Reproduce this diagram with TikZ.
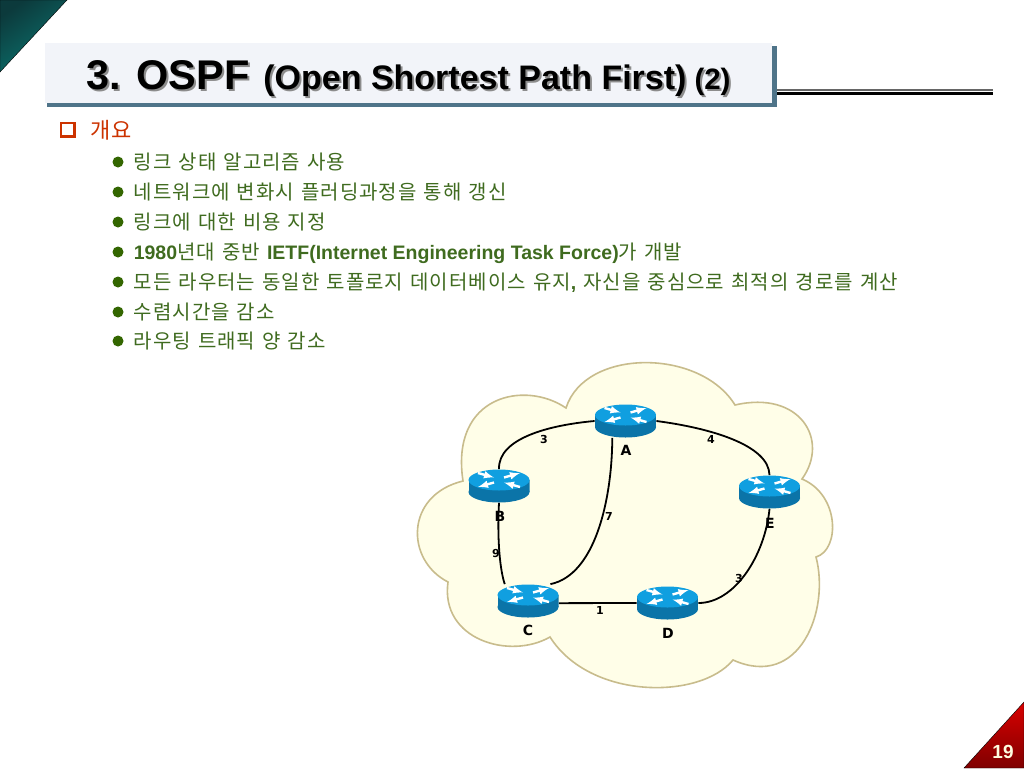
\documentclass[tikz,border=0pt]{standalone}
\usepackage{fontspec}
\usepackage{tikz}
\usetikzlibrary{positioning}
\setmainfont{Liberation Sans}
\newfontfamily\krfont[LetterSpace=5,WordSpace=1.3]{Noto Sans CJK KR}
\newfontfamily\labelfont{DejaVu Sans}
\definecolor{itemgreen}{HTML}{3F6B1F}
\definecolor{bulgreen}{HTML}{336600}
\definecolor{headred}{HTML}{CC3300}
\definecolor{barblue}{HTML}{4F7489}
\definecolor{boxgray}{HTML}{F2F4F9}
\definecolor{cloudfill}{HTML}{FFFEE8}
\definecolor{cloudline}{HTML}{C8BC8C}
\definecolor{routertop}{HTML}{109FE0}
\definecolor{routerside}{HTML}{0B74A8}
\definecolor{tealdark}{HTML}{0C3A3C}
\definecolor{teallight}{HTML}{0B7570}
\newcommand{\shadowed}[1]{\rlap{\kern2pt\raisebox{-2pt}{\color{black!45}#1}}#1}
\newcommand{\latinb}[1]{{\normalfont\fontsize{19.5}{22}\bfseries\selectfont #1}}

\begin{document}
\begin{tikzpicture}[x=1pt,y=-1pt,thick,
    item/.style={inner sep=0pt,text height=14pt,text depth=0pt,text=itemgreen,font=\fontsize{20}{22}\selectfont\krfont},
    bul/.style={circle,fill=bulgreen,inner sep=0pt,minimum size=11pt},
    link/.style={line width=1.8pt,black},
    weight/.style={inner sep=0pt,font=\labelfont\fontsize{11}{13}\bfseries\selectfont},
    rlabel/.style={inner sep=0pt,font=\labelfont\fontsize{14}{15}\bfseries\selectfont},
    router/.style={inner sep=0pt,minimum width=61pt,minimum height=33pt,path picture={
      \begin{scope}[shift={(path picture bounding box.center)}]
        \fill[routerside] (-30.5,-6) rectangle (30.5,6);
        \fill[routerside] (0,6) ellipse (30.5 and 10.5);
        \fill[routertop] (0,-6) ellipse (30.5 and 10.5);
        \draw[white,line width=2.4pt,-latex] (-21,-13) -- (-5,-8.5);
        \draw[white,line width=2.4pt,-latex] (21,1) -- (5,-3.5);
        \draw[white,line width=2.4pt,-latex] (5,-8.5) -- (21,-13);
        \draw[white,line width=2.4pt,-latex] (-5,-3.5) -- (-21,1);
      \end{scope}}}]
  \useasboundingbox (0,0) rectangle (1024,768);
  \fill[white] (0,0) rectangle (1024,768);

  \shade[left color=tealdark,right color=teallight,shading angle=35,draw=black,thin]
    (0,0) -- (67,0) -- (0,72) -- cycle;
  \shade[top color=red!85!black,bottom color=red!50!black,draw=black,thin]
    (1024,702) -- (1024,768) -- (964,768) -- cycle;
  \node[inner sep=0pt,text=yellow!12!white,font=\fontsize{19}{20}\bfseries\selectfont] (pagenum) at (1003,752) {19};

  \fill[barblue] (47,46) rectangle (777,107);
  \fill[boxgray] (45,43) rectangle (772,103);
  \fill[black!60] (777,89) rectangle (993,90.5);
  \fill[black] (777,91.5) rectangle (993,95);
  \node[anchor=base west,inner sep=0pt] (title) at (86,89) {\bfseries
    \fontsize{41.5}{46}\selectfont\shadowed{3. OSPF}\kern14pt
    \fontsize{34}{36}\selectfont\shadowed{(Open Shortest Path First)}\kern8pt
    \fontsize{29.5}{30}\selectfont\shadowed{(2)}};

  \node[fill=headred,inner sep=0pt,minimum size=16pt,path picture={
    \fill[white] ([shift={(-6,-6)}]path picture bounding box.center) rectangle ([shift={(5,5)}]path picture bounding box.center);}] (check) at (67.5,130) {};
  \node[anchor=west,inner sep=0pt,text=headred,font=\fontsize{22}{24}\selectfont\krfont] (head) at (90,130) {개요};

  \node[bul] (b1) at (118,162) {};
  \node[bul] (b2) at (118,192) {};
  \node[bul] (b3) at (118,222) {};
  \node[bul] (b4) at (118,252) {};
  \node[bul] (b5) at (118,282) {};
  \node[bul] (b6) at (118,312) {};
  \node[bul] (b7) at (118,341) {};
  \node[item,right=9.5pt of b1] (t1) {링크 상태 알고리즘 사용};
  \node[item,right=9.5pt of b2] (t2) {네트워크에 변화시 플러딩과정을 통해 갱신};
  \node[item,right=9.5pt of b3] (t3) {링크에 대한 비용 지정};
  \node[item,right=9.5pt of b4] (t4) {\latinb{1980}년대 중반 \latinb{IETF(Internet Engineering Task Force)}가 개발};
  \node[item,right=9.5pt of b5] (t5) {모든 라우터는 동일한 토폴로지 데이터베이스 유지\latinb{,} 자신을 중심으로 최적의 경로를 계산};
  \node[item,right=9.5pt of b6] (t6) {수렴시간을 감소};
  \node[item,right=9.5pt of b7] (t7) {라우팅 트래픽 양 감소};

  \draw[cloudline,fill=cloudfill,line width=1.6pt] (566,408)
    .. controls (585,348) and (700,348) .. (735,405)
    .. controls (800,390) and (830,440) .. (802,479)
    .. controls (840,495) and (840,550) .. (816,557)
    .. controls (830,610) and (800,690) .. (733,660)
    .. controls (700,700) and (590,700) .. (550,637)
    .. controls (510,660) and (440,640) .. (448,582)
    .. controls (405,560) and (405,495) .. (463,481)
    .. controls (450,395) and (525,380) .. (566,408) -- cycle;

  \node[router] (A) at (625.5,421) {};
  \node[router] (B) at (499,486) {};
  \node[router] (C) at (528,601) {};
  \node[router] (D) at (667.5,603) {};
  \node[router] (E) at (769.5,492) {};

  \draw[link] (A.west) .. controls (550,425) and (498,438) .. (B.north);
  \draw[link] (A.east) .. controls (710,428) and (769,445) .. (E.north);
  \draw[link] (A.232) .. controls (612,500) and (595,575) .. (C.37);
  \draw[link] (B.south) .. controls (497,540) and (500,570) .. (C.144);
  \draw[link] (C.-4) -- (D.west);
  \draw[link] (E.south) .. controls (765,555) and (735,603) .. (D.east);

  \node[rlabel] (la) at (626,450) {A};
  \node[rlabel] (lb) at (500,516) {B};
  \node[rlabel] (lc) at (528,630) {C};
  \node[rlabel] (ld) at (668,633) {D};
  \node[rlabel] (le) at (770,523) {E};
  \node[weight] (wab) at (544,439) {3};
  \node[weight] (wae) at (711,439) {4};
  \node[weight] (wac) at (609,516) {7};
  \node[weight] (wbc) at (496,553) {9};
  \node[weight] (wcd) at (600,610) {1};
  \node[weight] (wde) at (739,578) {3};
\end{tikzpicture}
\end{document}
